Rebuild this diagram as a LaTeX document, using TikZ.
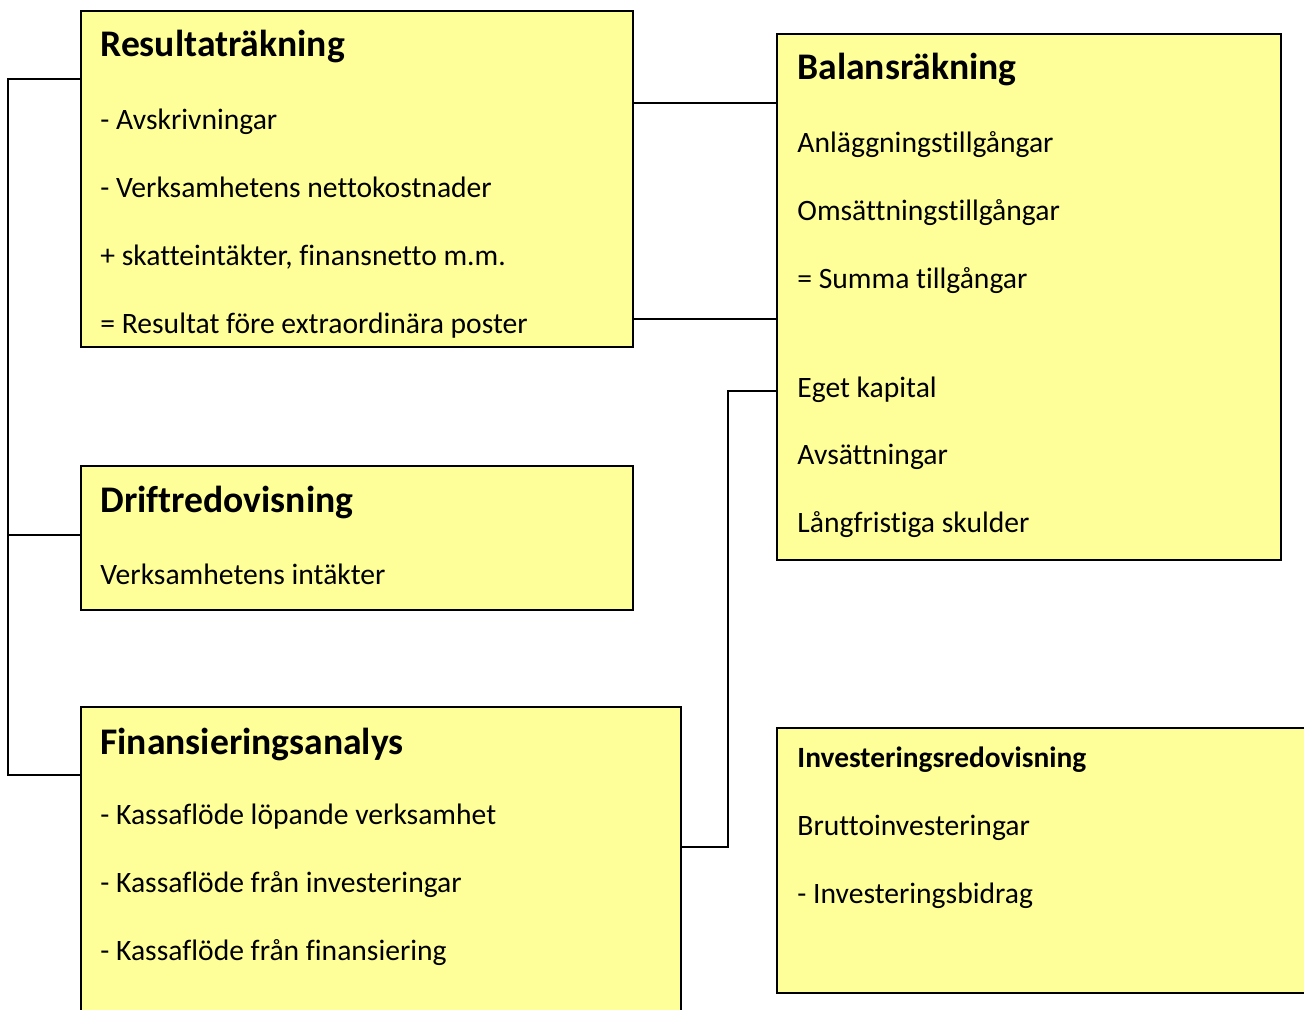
\documentclass[tikz,border=0pt]{standalone}
\usepackage{fontspec}
\setmainfont{Carlito}[Ligatures=NoCommon]
\usepackage{tikz}
\definecolor{boxgul}{HTML}{FFFF99}
\tikzset{
    ruta/.style={
        draw,
        fill=boxgul,
        rectangle,
        anchor=north west,
        inner sep=0pt,
        line width=1pt
    },
    rubrik/.style={
        anchor=base west,
        inner sep=0pt,
        font=\fontsize{18.8}{22}\selectfont\bfseries
    },
    litenrubrik/.style={
        anchor=base west,
        inner sep=0pt,
        font=\fontsize{14.7}{17}\selectfont\bfseries
    },
    rad/.style={
        anchor=base west,
        inner sep=0pt,
        font=\fontsize{14.8}{17}\selectfont
    },
    linje/.style={
        draw,
        line width=0.75pt
    }
}

\begin{document}
\begin{tikzpicture}[
    x=0.5pt,
    y=-0.5pt
]

    \clip (0,0) rectangle (1304,1010);

    % Rutor
    \node[ruta, minimum width=276pt, minimum height=168pt]   (res)   at (80,10)  {};
    \node[ruta, minimum width=252pt, minimum height=263pt]   (bal)   at (776,33) {};
    \node[ruta, minimum width=276pt, minimum height=72pt]    (drift) at (80,465) {};
    \node[ruta, minimum width=300pt, minimum height=170pt]   (fin)   at (80,706) {};
    \node[ruta, minimum width=264pt, minimum height=132.5pt] (inv)   at (776,727) {};

    % Resultaträkning
    \node[rubrik] (res0) at (100,57)  {Resultaträkning};
    \node[rad]    (res1) at (100,130) {- Avskrivningar};
    \node[rad]    (res2) at (100,198) {- Verksamhetens nettokostnader};
    \node[rad]    (res3) at (100,266) {+ skatteintäkter, finansnetto m.m.};
    \node[rad]    (res4) at (100,333) {= Resultat före extraordinära poster};

    % Balansräkning
    \node[rubrik] (bal0) at (797,80)  {Balansräkning};
    \node[rad]    (bal1) at (797,153) {Anläggningstillgångar};
    \node[rad]    (bal2) at (797,221) {Omsättningstillgångar};
    \node[rad]    (bal3) at (797,289) {= Summa tillgångar};
    \node[rad]    (bal4) at (797,397) {Eget kapital};
    \node[rad]    (bal5) at (797,464) {Avsättningar};
    \node[rad]    (bal6) at (797,532) {Långfristiga skulder};

    % Driftredovisning
    \node[rubrik] (drift0) at (100,512) {Driftredovisning};
    \node[rad]    (drift1) at (100,584) {Verksamhetens intäkter};

    % Finansieringsanalys
    \node[rubrik] (fin0) at (100,754) {Finansieringsanalys};
    \node[rad]    (fin1) at (100,824) {- Kassaflöde löpande verksamhet};
    \node[rad]    (fin2) at (100,892) {- Kassaflöde från investeringar};
    \node[rad]    (fin3) at (100,960) {- Kassaflöde från finansiering};

    % Investeringsredovisning
    \node[litenrubrik] (inv0) at (797,767) {Investeringsredovisning};
    \node[rad]         (inv1) at (797,835) {Bruttoinvesteringar};
    \node[rad]         (inv2) at (797,903) {- Investeringsbidrag};

    % Linjer
    \coordinate (v1) at (8,79);
    \coordinate (v2) at (8,535);
    \coordinate (v3) at (8,775);
    \coordinate (h1) at (704,103);
    \coordinate (h2) at (704,319);
    \coordinate (k1) at (728,847);
    \coordinate (k2) at (728,391);

    \path[linje]
        (res.west |- v1) -- (v1) -- (v3) -- (fin.west |- v3)
        (v2) -- (drift.west |- v2)
        (res.east |- h1) -- (bal.west |- h1)
        (res.east |- h2) -- (bal.west |- h2)
        (fin.east |- k1) -- (k1) -- (k2) -- (bal.west |- k2);

\end{tikzpicture}
\end{document}
